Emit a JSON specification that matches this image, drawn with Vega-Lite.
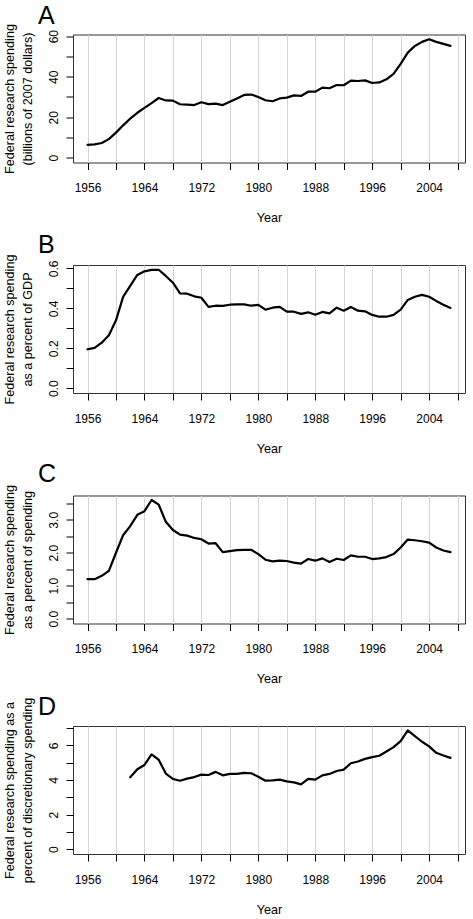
{
  "$schema": "https://vega.github.io/schema/vega-lite/v6.json",
  "padding": {"left": 2, "top": 2.5, "right": 5, "bottom": 5},
  "background": "white",
  "datasets": {
    "a": [
      {"year": 1956, "v": 6.4}, {"year": 1957, "v": 6.6}, {"year": 1958, "v": 7.3}, {"year": 1959, "v": 9.2},
      {"year": 1960, "v": 12.4}, {"year": 1961, "v": 16.0}, {"year": 1962, "v": 19.3}, {"year": 1963, "v": 22.2},
      {"year": 1964, "v": 24.6}, {"year": 1965, "v": 27.0}, {"year": 1966, "v": 29.5}, {"year": 1967, "v": 28.3},
      {"year": 1968, "v": 28.2}, {"year": 1969, "v": 26.4}, {"year": 1970, "v": 26.2}, {"year": 1971, "v": 26.0},
      {"year": 1972, "v": 27.4}, {"year": 1973, "v": 26.5}, {"year": 1974, "v": 26.7}, {"year": 1975, "v": 26.0},
      {"year": 1976, "v": 27.7}, {"year": 1977, "v": 29.3}, {"year": 1978, "v": 31.0}, {"year": 1979, "v": 31.2},
      {"year": 1980, "v": 30.0}, {"year": 1981, "v": 28.4}, {"year": 1982, "v": 27.9}, {"year": 1983, "v": 29.3},
      {"year": 1984, "v": 29.7}, {"year": 1985, "v": 30.8}, {"year": 1986, "v": 30.5}, {"year": 1987, "v": 32.6},
      {"year": 1988, "v": 32.6}, {"year": 1989, "v": 34.6}, {"year": 1990, "v": 34.3}, {"year": 1991, "v": 35.9},
      {"year": 1992, "v": 35.8}, {"year": 1993, "v": 38.1}, {"year": 1994, "v": 37.9}, {"year": 1995, "v": 38.2},
      {"year": 1996, "v": 36.9}, {"year": 1997, "v": 37.2}, {"year": 1998, "v": 38.7}, {"year": 1999, "v": 41.4},
      {"year": 2000, "v": 46.3}, {"year": 2001, "v": 51.9}, {"year": 2002, "v": 55.2}, {"year": 2003, "v": 57.2},
      {"year": 2004, "v": 58.5}, {"year": 2005, "v": 57.2}, {"year": 2006, "v": 56.2}, {"year": 2007, "v": 55.2}
    ],
    "b": [
      {"year": 1956, "v": 0.195}, {"year": 1957, "v": 0.202}, {"year": 1958, "v": 0.228}, {"year": 1959, "v": 0.265},
      {"year": 1960, "v": 0.34}, {"year": 1961, "v": 0.457}, {"year": 1962, "v": 0.512}, {"year": 1963, "v": 0.567},
      {"year": 1964, "v": 0.585}, {"year": 1965, "v": 0.592}, {"year": 1966, "v": 0.593}, {"year": 1967, "v": 0.562},
      {"year": 1968, "v": 0.528}, {"year": 1969, "v": 0.475}, {"year": 1970, "v": 0.473}, {"year": 1971, "v": 0.46},
      {"year": 1972, "v": 0.453}, {"year": 1973, "v": 0.407}, {"year": 1974, "v": 0.413}, {"year": 1975, "v": 0.412},
      {"year": 1976, "v": 0.418}, {"year": 1977, "v": 0.42}, {"year": 1978, "v": 0.42}, {"year": 1979, "v": 0.413},
      {"year": 1980, "v": 0.417}, {"year": 1981, "v": 0.393}, {"year": 1982, "v": 0.403}, {"year": 1983, "v": 0.407},
      {"year": 1984, "v": 0.383}, {"year": 1985, "v": 0.383}, {"year": 1986, "v": 0.372}, {"year": 1987, "v": 0.38},
      {"year": 1988, "v": 0.368}, {"year": 1989, "v": 0.382}, {"year": 1990, "v": 0.375}, {"year": 1991, "v": 0.403},
      {"year": 1992, "v": 0.388}, {"year": 1993, "v": 0.407}, {"year": 1994, "v": 0.388}, {"year": 1995, "v": 0.385},
      {"year": 1996, "v": 0.367}, {"year": 1997, "v": 0.358}, {"year": 1998, "v": 0.358}, {"year": 1999, "v": 0.367},
      {"year": 2000, "v": 0.393}, {"year": 2001, "v": 0.442}, {"year": 2002, "v": 0.458}, {"year": 2003, "v": 0.467},
      {"year": 2004, "v": 0.458}, {"year": 2005, "v": 0.437}, {"year": 2006, "v": 0.418}, {"year": 2007, "v": 0.402}
    ],
    "c": [
      {"year": 1956, "v": 1.2}, {"year": 1957, "v": 1.2}, {"year": 1958, "v": 1.3}, {"year": 1959, "v": 1.45},
      {"year": 1960, "v": 2.0}, {"year": 1961, "v": 2.53}, {"year": 1962, "v": 2.81}, {"year": 1963, "v": 3.15},
      {"year": 1964, "v": 3.26}, {"year": 1965, "v": 3.6}, {"year": 1966, "v": 3.46}, {"year": 1967, "v": 2.94},
      {"year": 1968, "v": 2.69}, {"year": 1969, "v": 2.55}, {"year": 1970, "v": 2.52}, {"year": 1971, "v": 2.45},
      {"year": 1972, "v": 2.41}, {"year": 1973, "v": 2.28}, {"year": 1974, "v": 2.29}, {"year": 1975, "v": 2.02},
      {"year": 1976, "v": 2.05}, {"year": 1977, "v": 2.08}, {"year": 1978, "v": 2.09}, {"year": 1979, "v": 2.09},
      {"year": 1980, "v": 1.96}, {"year": 1981, "v": 1.79}, {"year": 1982, "v": 1.74}, {"year": 1983, "v": 1.76},
      {"year": 1984, "v": 1.75}, {"year": 1985, "v": 1.7}, {"year": 1986, "v": 1.67}, {"year": 1987, "v": 1.81},
      {"year": 1988, "v": 1.76}, {"year": 1989, "v": 1.83}, {"year": 1990, "v": 1.72}, {"year": 1991, "v": 1.82},
      {"year": 1992, "v": 1.78}, {"year": 1993, "v": 1.92}, {"year": 1994, "v": 1.88}, {"year": 1995, "v": 1.88},
      {"year": 1996, "v": 1.81}, {"year": 1997, "v": 1.83}, {"year": 1998, "v": 1.87}, {"year": 1999, "v": 1.96},
      {"year": 2000, "v": 2.16}, {"year": 2001, "v": 2.4}, {"year": 2002, "v": 2.38}, {"year": 2003, "v": 2.35},
      {"year": 2004, "v": 2.31}, {"year": 2005, "v": 2.16}, {"year": 2006, "v": 2.07}, {"year": 2007, "v": 2.02}
    ],
    "d": [
      {"year": 1962, "v": 4.16}, {"year": 1963, "v": 4.62},
      {"year": 1964, "v": 4.87}, {"year": 1965, "v": 5.48}, {"year": 1966, "v": 5.17}, {"year": 1967, "v": 4.37},
      {"year": 1968, "v": 4.06}, {"year": 1969, "v": 3.96}, {"year": 1970, "v": 4.08}, {"year": 1971, "v": 4.17},
      {"year": 1972, "v": 4.31}, {"year": 1973, "v": 4.29}, {"year": 1974, "v": 4.47}, {"year": 1975, "v": 4.27},
      {"year": 1976, "v": 4.35}, {"year": 1977, "v": 4.35}, {"year": 1978, "v": 4.41}, {"year": 1979, "v": 4.39},
      {"year": 1980, "v": 4.19}, {"year": 1981, "v": 3.96}, {"year": 1982, "v": 3.98}, {"year": 1983, "v": 4.02},
      {"year": 1984, "v": 3.92}, {"year": 1985, "v": 3.86}, {"year": 1986, "v": 3.75}, {"year": 1987, "v": 4.06},
      {"year": 1988, "v": 4.02}, {"year": 1989, "v": 4.27}, {"year": 1990, "v": 4.35}, {"year": 1991, "v": 4.52},
      {"year": 1992, "v": 4.6}, {"year": 1993, "v": 4.97}, {"year": 1994, "v": 5.07}, {"year": 1995, "v": 5.22},
      {"year": 1996, "v": 5.32}, {"year": 1997, "v": 5.4}, {"year": 1998, "v": 5.65}, {"year": 1999, "v": 5.9},
      {"year": 2000, "v": 6.25}, {"year": 2001, "v": 6.87}, {"year": 2002, "v": 6.54}, {"year": 2003, "v": 6.21},
      {"year": 2004, "v": 5.94}, {"year": 2005, "v": 5.57}, {"year": 2006, "v": 5.42}, {"year": 2007, "v": 5.28}
    ]
  },
  "vconcat": [
    {
      "width": 392, "height": 128,
      "title": {"text": "A", "offset": -5},
      "data": {"name": "a"},
      "mark": {"type": "line", "color": "#000", "strokeWidth": 2.2, "strokeJoin": "round", "strokeCap": "round"},
      "encoding": {
        "x": {"field": "year", "type": "quantitative", "scale": {"domain": [1953.96, 2009.04], "nice": false, "zero": false},
          "axis": {"title": "Year", "values": [1956,1960,1964,1968,1972,1976,1980,1984,1988,1992,1996,2000,2004,2008], "format": "d", "labelExpr": "(datum.value - 1956) % 8 == 0 ? datum.label : ''"}},
        "y": {"field": "v", "type": "quantitative", "scale": {"domain": [-2.34, 60.84], "nice": false, "zero": false},
          "axis": {"title": ["Federal research spending", "(billions of 2007 dollars)"], "values": [0,10,20,30,40,50,60], "format": "d", "labelExpr": "datum.value % 20 == 0 ? datum.label : ''"}}
      }
    },
    {
      "width": 392, "height": 128,
      "title": {"text": "B", "offset": -4},
      "data": {"name": "b"},
      "mark": {"type": "line", "color": "#000", "strokeWidth": 2.2, "strokeJoin": "round", "strokeCap": "round"},
      "encoding": {
        "x": {"field": "year", "type": "quantitative", "scale": {"domain": [1953.96, 2009.04], "nice": false, "zero": false},
          "axis": {"title": "Year", "values": [1956,1960,1964,1968,1972,1976,1980,1984,1988,1992,1996,2000,2004,2008], "format": "d", "labelExpr": "(datum.value - 1956) % 8 == 0 ? datum.label : ''"}},
        "y": {"field": "v", "type": "quantitative", "scale": {"domain": [-0.0237, 0.6167], "nice": false, "zero": false},
          "axis": {"title": ["Federal research spending", "as a percent of GDP"], "values": [0,0.1,0.2,0.3,0.4,0.5,0.6], "format": ".1f", "labelExpr": "round(datum.value * 10) % 2 == 0 ? datum.label : ''"}}
      }
    },
    {
      "width": 392, "height": 128,
      "title": {"text": "C", "offset": -2.5},
      "data": {"name": "c"},
      "mark": {"type": "line", "color": "#000", "strokeWidth": 2.2, "strokeJoin": "round", "strokeCap": "round"},
      "encoding": {
        "x": {"field": "year", "type": "quantitative", "scale": {"domain": [1953.96, 2009.04], "nice": false, "zero": false},
          "axis": {"title": "Year", "values": [1956,1960,1964,1968,1972,1976,1980,1984,1988,1992,1996,2000,2004,2008], "format": "d", "labelExpr": "(datum.value - 1956) % 8 == 0 ? datum.label : ''"}},
        "y": {"field": "v", "type": "quantitative", "scale": {"domain": [-0.1437, 3.736], "nice": false, "zero": false},
          "axis": {"title": ["Federal research spending", "as a percent of spending"], "values": [0,0.5,1,1.5,2,2.5,3,3.5], "format": ".1f", "labelExpr": "round(datum.value * 2) % 2 == 0 ? datum.label : ''"}}
      }
    },
    {
      "width": 392, "height": 128,
      "title": {"text": "D", "offset": -23},
      "data": {"name": "d"},
      "mark": {"type": "line", "color": "#000", "strokeWidth": 2.2, "strokeJoin": "round", "strokeCap": "round"},
      "encoding": {
        "x": {"field": "year", "type": "quantitative", "scale": {"domain": [1953.96, 2009.04], "nice": false, "zero": false},
          "axis": {"title": "Year", "values": [1956,1960,1964,1968,1972,1976,1980,1984,1988,1992,1996,2000,2004,2008], "format": "d", "labelExpr": "(datum.value - 1956) % 8 == 0 ? datum.label : ''"}},
        "y": {"field": "v", "type": "quantitative", "scale": {"domain": [-0.275, 7.12], "nice": false, "zero": false},
          "axis": {"title": ["Federal research spending as a", "percent of discretionary spending"], "values": [0,1,2,3,4,5,6,7], "format": "d", "labelExpr": "datum.value % 2 == 0 ? datum.label : ''"}}
      }
    }
  ],
  "spacing": 102.5,
  "bounds": "flush",
  "config": {
    "font": "Liberation Sans",
    "view": {"stroke": "#333", "strokeWidth": 1},
    "axis": {"domain": false, "grid": false, "tickColor": "#000", "tickSize": 7, "tickWidth": 1,
      "labelFontSize": 12, "labelColor": "#000", "titleFontSize": 12.6, "titleFontWeight": "normal", "titleColor": "#000",
      "labelOverlap": false, "labelFlush": false, "labelBound": false},
    "axisX": {"grid": true, "gridColor": "#D3D3D3", "gridWidth": 1, "labelPadding": 13, "titlePadding": 18},
    "axisY": {"labelAngle": 270, "labelAlign": "center", "labelBaseline": "alphabetic", "labelPadding": 9, "titlePadding": 13, "titleLineHeight": 18},
    "title": {"fontSize": 25, "fontWeight": "normal", "anchor": "start", "frame": "group", "dx": -35, "baseline": "alphabetic", "color": "#000"}
  }
}
